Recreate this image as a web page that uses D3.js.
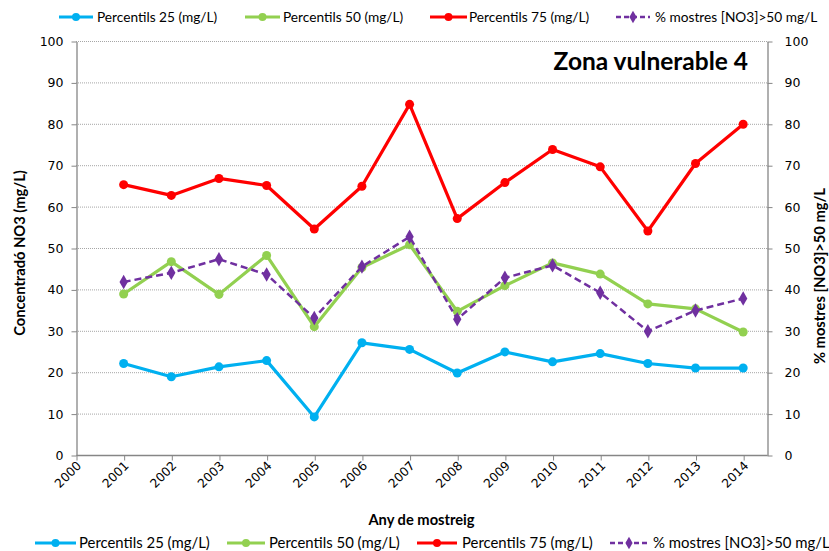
<!DOCTYPE html>
<html><head><meta charset="utf-8">
<script src="https://cdn.jsdelivr.net/npm/d3@7"></script>
<style>body{margin:0;background:#fff}svg{display:block}</style>
</head><body><div id="chart"></div>
<script>
const years = [2000,2001,2002,2003,2004,2005,2006,2007,2008,2009,2010,2011,2012,2013,2014];
const dataYears = [2001,2002,2003,2004,2005,2006,2007,2008,2009,2010,2011,2012,2013,2014];
const p25 = [22.1,18.9,21.3,22.8,9.2,27.1,25.5,19.8,24.9,22.5,24.5,22.1,21.0,21.0];
const p50 = [38.9,46.7,38.8,48.2,31.0,45.3,50.8,34.7,40.9,46.4,43.7,36.5,35.3,29.7];
const p75 = [65.3,62.7,66.8,65.1,54.6,64.9,84.7,57.1,65.8,73.8,69.6,54.1,70.4,79.9];
const pct = [41.8,44.0,47.3,43.6,33.1,45.5,52.7,32.8,42.8,45.8,39.2,29.9,34.9,37.8];
const yTicks = [0,10,20,30,40,50,60,70,80,90,100];
const seriesNames = ["Percentils 25 (mg/L)","Percentils 50 (mg/L)","Percentils 75 (mg/L)","% mostres [NO3]>50 mg/L"];
const seriesColors = ["#00B0F0","#92D050","#FF0000","#7030A0"];

const W = 829, H = 551;
const L = 76, R = 767, T = 41, B = 455;
const svg = d3.select("#chart").append("svg").attr("width", W).attr("height", H);

const x = d3.scaleLinear().domain([2000, 2014.5]).range([L, R]);
const yL = d3.scaleLinear().domain([0, 100]).range([B, T]);
const yR = d3.scaleLinear().domain([0, 100]).range([B, T]);

svg.append("g").selectAll("line").data(yTicks.filter(d => d > 0)).join("line")
  .attr("x1", L).attr("x2", R).attr("y1", d => yL(d) + 0.5).attr("y2", d => yL(d) + 0.5)
  .attr("stroke", "#a6a6a6").attr("stroke-width", 1).attr("stroke-dasharray", "1,1");

const axisColor = "#868686";
const tickFont = "'DejaVu Sans', Verdana, sans-serif";

const gl = svg.append("g").attr("transform", `translate(${L + 0.5},0.5)`)
  .call(d3.axisLeft(yL).tickValues(yTicks).tickSize(5).tickPadding(8).tickSizeOuter(0));
const gr = svg.append("g").attr("transform", `translate(${R + 0.5},0.5)`)
  .call(d3.axisRight(yR).tickValues(yTicks).tickSize(5).tickPadding(12).tickSizeOuter(0));
const gb = svg.append("g").attr("transform", `translate(0.5,${B + 0.5})`)
  .call(d3.axisBottom(x).tickValues(years).tickFormat(d3.format("d")).tickSize(5).tickSizeOuter(0));
gb.select(".domain").attr("d", `M${L},0H${R}`);
[gl, gr, gb].forEach(g => {
  g.selectAll(".domain").attr("stroke", axisColor).attr("stroke-width", 1.3);
  g.selectAll(".tick line").attr("stroke", axisColor);
  g.selectAll("text").attr("font-family", tickFont).attr("font-size", 12.5).attr("fill", "#000");
});
gb.selectAll(".tick text")
  .attr("text-anchor", "end").attr("dy", null).attr("y", null)
  .attr("font-size", 12.3)
  .attr("transform", "translate(5,11) rotate(-45)");

svg.append("text").attr("x", 748).attr("y", 70).attr("text-anchor", "end")
  .attr("font-family", "Lato, 'Open Sans', sans-serif").attr("font-weight", "bold")
  .attr("font-size", 24.5).text("Zona vulnerable 4");

svg.append("text").attr("transform", `translate(25,${(T + B) / 2 + 5}) rotate(-90)`)
  .attr("text-anchor", "middle").attr("font-family", "Lato, sans-serif").attr("font-weight", "bold")
  .attr("font-size", 14.7).text("Concentradó NO3 (mg/L)");
svg.append("text").attr("transform", `translate(825,${(T + B) / 2 + 28}) rotate(-90)`)
  .attr("text-anchor", "middle").attr("font-family", "Lato, sans-serif").attr("font-weight", "bold")
  .attr("font-size", 14.7).text("% mostres [NO3]>50 mg/L");
svg.append("text").attr("x", (L + R) / 2).attr("y", 525).attr("text-anchor", "middle")
  .attr("font-family", "Lato, sans-serif").attr("font-weight", "bold")
  .attr("font-size", 14.7).text("Any de mostreig");

const series = [
  {vals: p25, scale: yL, color: seriesColors[0], dash: null, marker: "circle"},
  {vals: p50, scale: yL, color: seriesColors[1], dash: null, marker: "circle"},
  {vals: p75, scale: yL, color: seriesColors[2], dash: null, marker: "circle"},
  {vals: pct, scale: yR, color: seriesColors[3], dash: "7,4", marker: "diamond"}
];
series.forEach(s => {
  const pts = dataYears.map((yr, i) => [x(yr), s.scale(s.vals[i])]);
  svg.append("path").attr("d", d3.line()(pts)).attr("fill", "none")
    .attr("stroke", s.color).attr("stroke-width", s.dash ? 2.5 : 3.2)
    .attr("stroke-dasharray", s.dash).attr("stroke-linejoin", "round");
  const sym = d3.symbol().type(s.marker === "circle" ? d3.symbolCircle : d3.symbolDiamond)
    .size(s.marker === "circle" ? 64 : 60);
  svg.append("g").selectAll("path").data(pts).join("path")
    .attr("transform", d => `translate(${d[0]},${d[1]})`).attr("d", sym).attr("fill", s.color);
});

function legend(y, items, fs) {
  items.forEach((it, i) => {
    const s = series[i];
    const g = svg.append("g");
    g.append("line").attr("x1", it[0]).attr("x2", it[1]).attr("y1", y).attr("y2", y)
      .attr("stroke", s.color).attr("stroke-width", s.dash ? 2.5 : 3.2)
      .attr("stroke-dasharray", s.dash ? "5,3" : null);
    const sym = d3.symbol().type(s.marker === "circle" ? d3.symbolCircle : d3.symbolDiamond)
      .size(s.marker === "circle" ? 50 : 45);
    g.append("path").attr("transform", `translate(${(it[0] + it[1]) / 2},${y})`).attr("d", sym).attr("fill", s.color);
    g.append("text").attr("x", it[2]).attr("y", y + 5).attr("font-family", "Lato, sans-serif")
      .attr("font-size", fs).text(seriesNames[i]);
  });
}
legend(17, [[59,93,97],[245,280,283],[430,467,469],[616,650,655]], 13.7);
legend(543, [[35,76,79],[227,265,269],[417,457,462],[610,648,653]], 14.9);
</script></body></html>
